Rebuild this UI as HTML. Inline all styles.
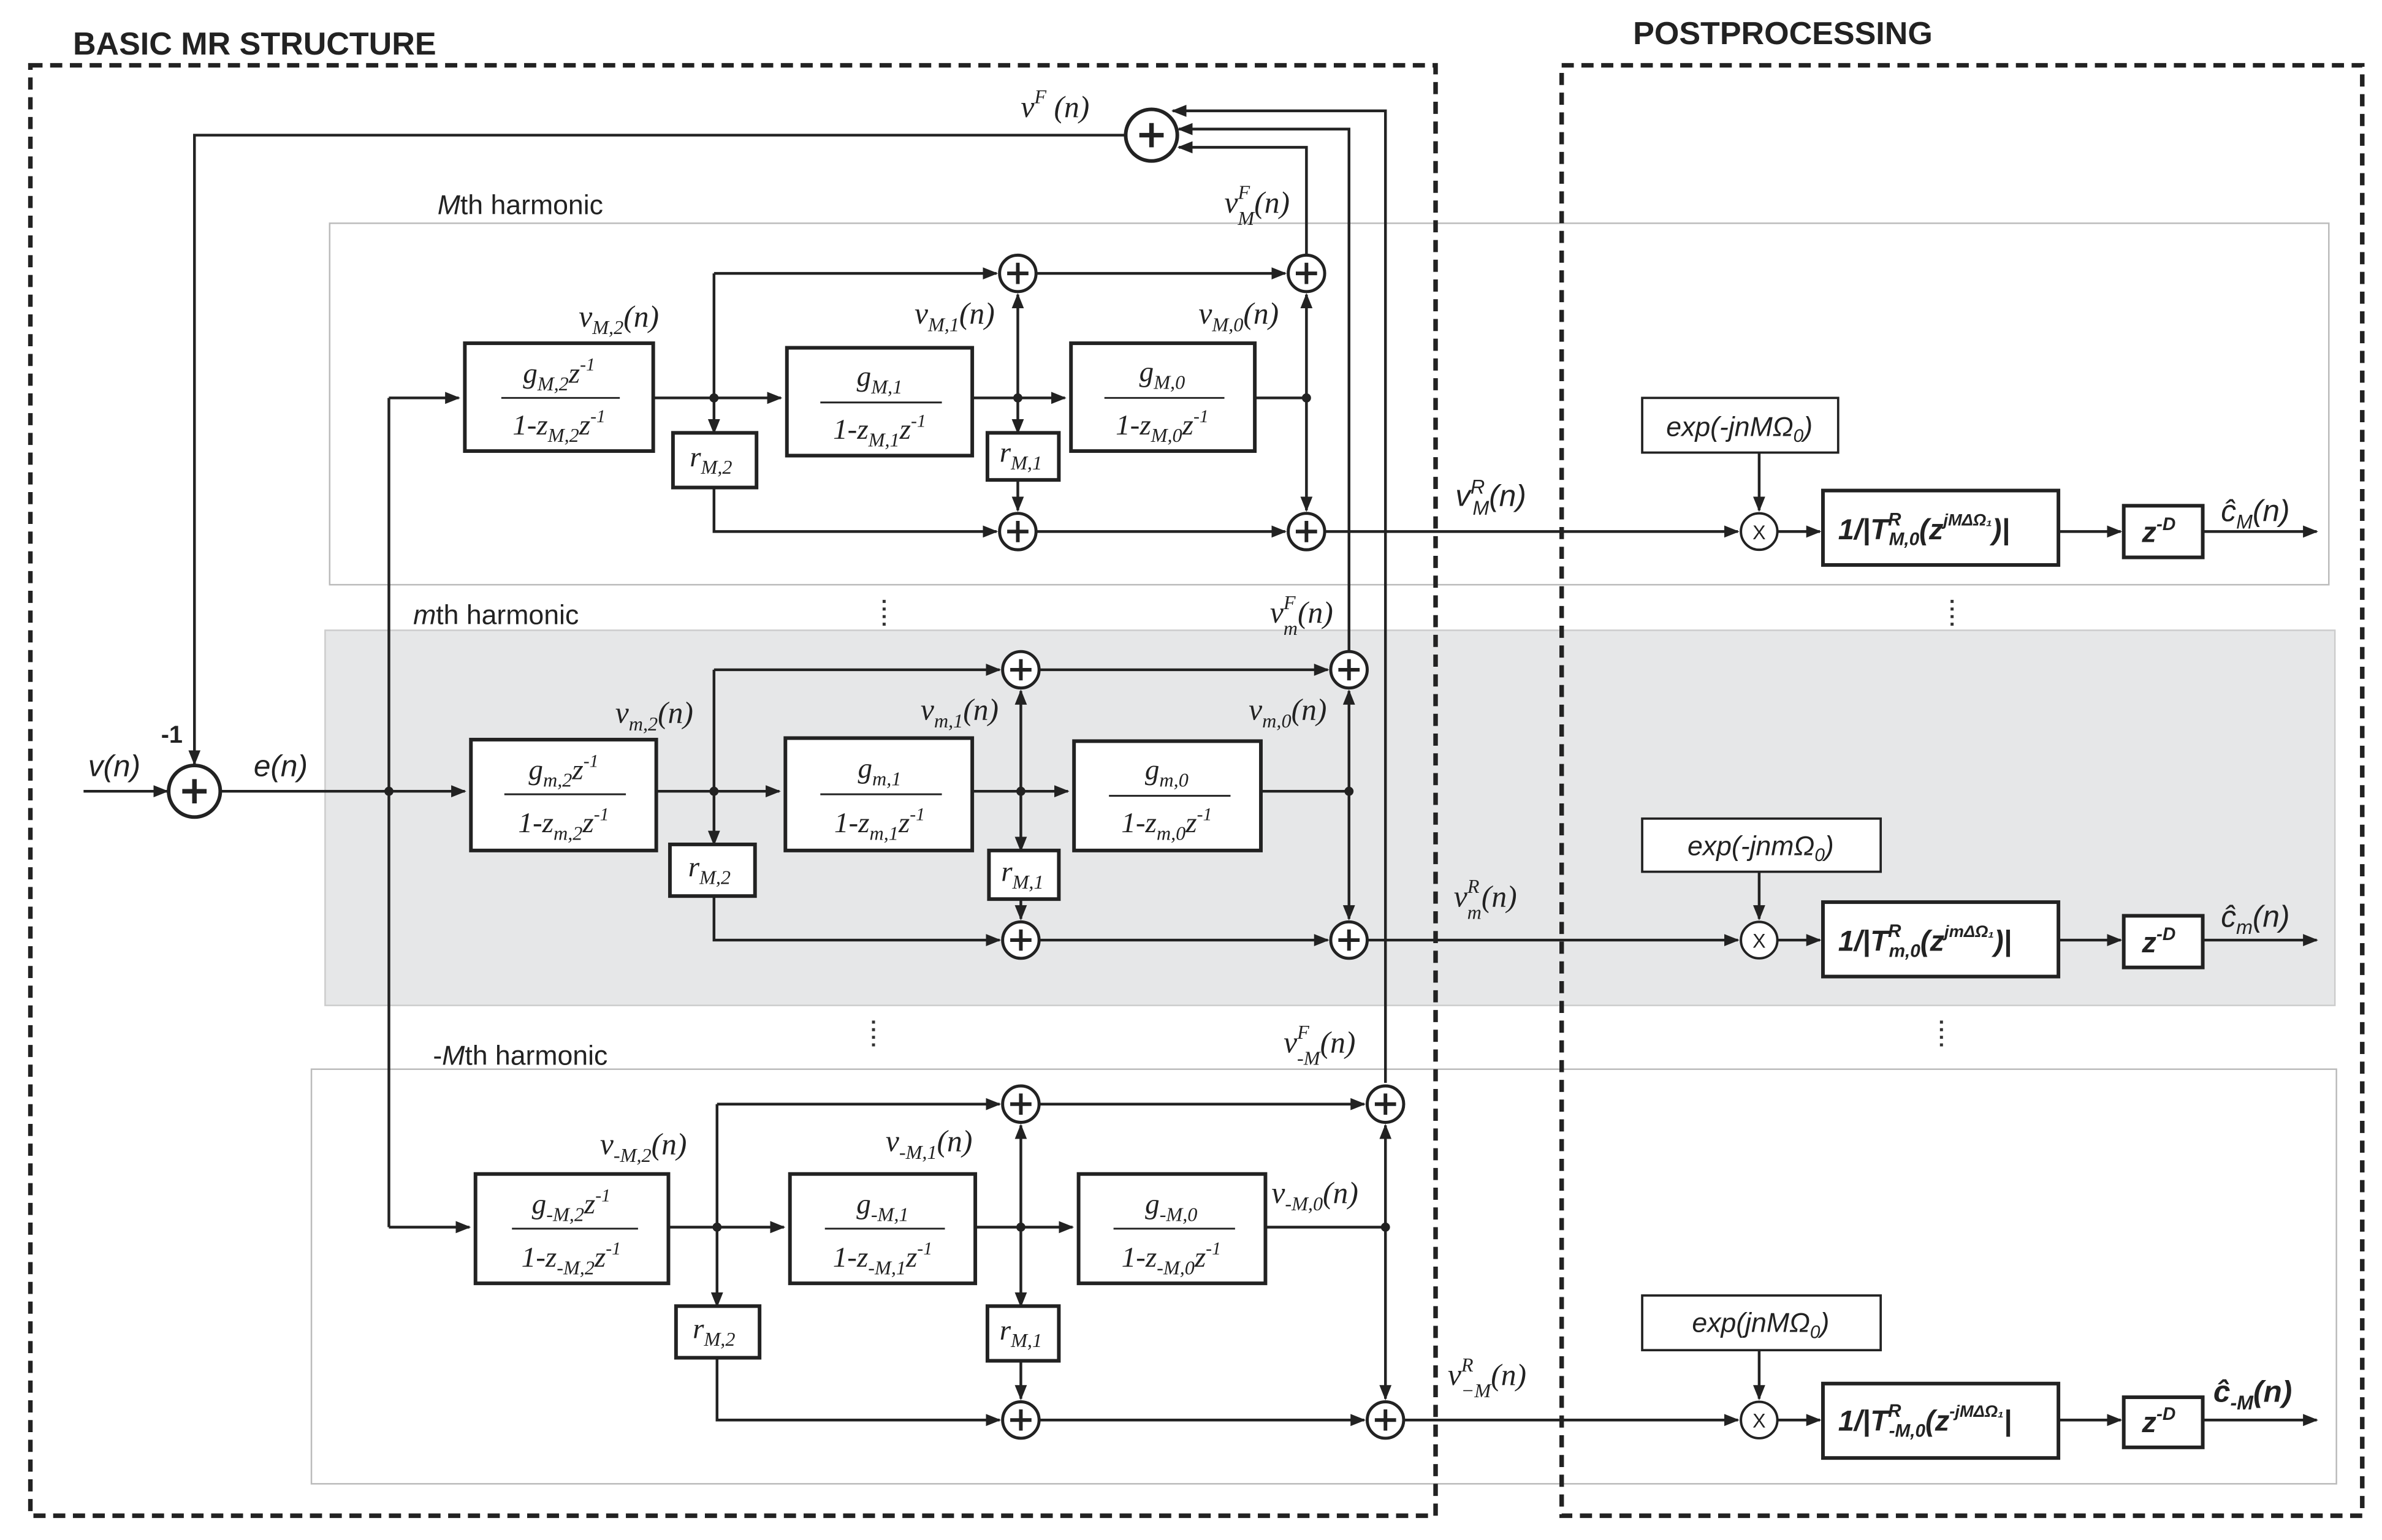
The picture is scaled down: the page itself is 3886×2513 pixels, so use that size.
<!DOCTYPE html>
<html><head><meta charset="utf-8"><style>
html,body{margin:0;padding:0;background:#fff}
svg{display:block}
text{font-family:"Liberation Serif",serif;font-style:italic;fill:#222}
.s{font-family:"Liberation Sans",sans-serif;font-style:italic}
.b{font-family:"Liberation Sans",sans-serif;font-weight:bold;font-style:normal}
</style></head><body>
<svg width="3886" height="2513" viewBox="0 0 1568 1014" preserveAspectRatio="none" xmlns="http://www.w3.org/2000/svg">
<defs>
<marker id="a" markerWidth="10" markerHeight="8" refX="9" refY="4" orient="auto" markerUnits="userSpaceOnUse"><path d="M0,0 L10,4 L0,8 z" fill="#222"/></marker>
<g id="sum"><circle r="12" fill="#fff" stroke="#222" stroke-width="2"/><path d="M-7,0H7M0,-7V7" stroke="#222" stroke-width="2.4"/></g>
<g id="mul"><circle r="12" fill="#fff" stroke="#222" stroke-width="1.6"/><text x="0" y="5" text-anchor="middle" style="font-family:'Liberation Sans',sans-serif;font-style:normal;font-size:13px">X</text></g>
</defs>
<!-- panels -->
<rect x="217" y="147" width="1316" height="238" fill="none" stroke="#bbb" stroke-width="1"/>
<rect x="214" y="415" width="1323" height="247" fill="#e6e7e8" stroke="#ccc" stroke-width="1"/>
<rect x="205" y="704" width="1333" height="273" fill="none" stroke="#bbb" stroke-width="1"/>
<!-- dashed boxes -->
<rect x="20" y="43" width="925" height="955" fill="none" stroke="#222" stroke-width="3" stroke-dasharray="8,5"/>
<rect x="1028" y="43" width="527" height="955" fill="none" stroke="#222" stroke-width="3" stroke-dasharray="8,5"/>
<text class="b" x="48" y="36" font-size="21">BASIC MR STRUCTURE</text>
<text class="b" x="1075" y="29" font-size="21">POSTPROCESSING</text>
<text class="s" x="288" y="141" font-size="18" style="font-style:normal"><tspan font-style="italic">M</tspan>th harmonic</text>
<text class="s" x="272" y="411" font-size="18" style="font-style:normal"><tspan font-style="italic">m</tspan>th harmonic</text>
<text class="s" x="285" y="701" font-size="18" style="font-style:normal">-<tspan font-style="italic">M</tspan>th harmonic</text>
<g stroke="#333" stroke-width="2" stroke-dasharray="2,3">
<path d="M582,395V413M1285,395V413M575,672V692M1278,672V692"/></g>

<g stroke="#222" stroke-width="1.8" fill="none">
<!-- input -->
<path d="M55,521H110" marker-end="url(#a)"/>
<path d="M145,521H306" marker-end="url(#a)"/>
<path d="M256,262V808"/>
<path d="M256,262H302" marker-end="url(#a)"/>
<path d="M256,808H309" marker-end="url(#a)"/>
<path d="M741,89H128V503" marker-end="url(#a)"/>
<!-- feedback -->
<path d="M860,168V97H776" marker-end="url(#a)"/>
<path d="M888,429V85H776" marker-end="url(#a)"/>
<path d="M912,713V73H772" marker-end="url(#a)"/>

<!-- Row M -->
<path d="M430,262H470"/><path d="M470,262H514" marker-end="url(#a)"/>
<path d="M470,180V285" marker-end="url(#a)"/><path d="M470,180H656" marker-end="url(#a)"/>
<path d="M470,321V350H656" marker-end="url(#a)"/>
<path d="M640,262H701" marker-end="url(#a)"/>
<path d="M670,262V194" marker-end="url(#a)"/><path d="M670,262V285" marker-end="url(#a)"/><path d="M670,316V336" marker-end="url(#a)"/>
<path d="M682,180H846" marker-end="url(#a)"/><path d="M682,350H846" marker-end="url(#a)"/>
<path d="M826,262H860"/><path d="M860,262V194" marker-end="url(#a)"/><path d="M860,262V336" marker-end="url(#a)"/>
<path d="M872,350H1144" marker-end="url(#a)"/>

<!-- Row m -->
<path d="M432,521H470"/><path d="M470,521H513" marker-end="url(#a)"/>
<path d="M470,441V556" marker-end="url(#a)"/><path d="M470,441H658" marker-end="url(#a)"/>
<path d="M470,590V619H658" marker-end="url(#a)"/>
<path d="M640,521H703" marker-end="url(#a)"/>
<path d="M672,521V455" marker-end="url(#a)"/><path d="M672,521V560" marker-end="url(#a)"/><path d="M672,592V605" marker-end="url(#a)"/>
<path d="M684,441H874" marker-end="url(#a)"/><path d="M684,619H874" marker-end="url(#a)"/>
<path d="M830,521H888"/><path d="M888,521V455" marker-end="url(#a)"/><path d="M888,521V605" marker-end="url(#a)"/>
<path d="M900,619H1144" marker-end="url(#a)"/>

<!-- Row -M -->
<path d="M440,808H472"/><path d="M472,808H516" marker-end="url(#a)"/>
<path d="M472,727V860" marker-end="url(#a)"/><path d="M472,727H658" marker-end="url(#a)"/>
<path d="M472,894V935H658" marker-end="url(#a)"/>
<path d="M642,808H706" marker-end="url(#a)"/>
<path d="M672,808V741" marker-end="url(#a)"/><path d="M672,808V860" marker-end="url(#a)"/><path d="M672,896V921" marker-end="url(#a)"/>
<path d="M684,727H898" marker-end="url(#a)"/><path d="M684,935H898" marker-end="url(#a)"/>
<path d="M833,808H912"/><path d="M912,808V741" marker-end="url(#a)"/><path d="M912,808V921" marker-end="url(#a)"/>
<path d="M924,935H1144" marker-end="url(#a)"/>

<!-- postprocessing arrows -->
<path d="M1158,298V336" marker-end="url(#a)"/><path d="M1170,350H1198" marker-end="url(#a)"/><path d="M1355,350H1396" marker-end="url(#a)"/><path d="M1450,350H1525" marker-end="url(#a)"/>
<path d="M1158,574V605" marker-end="url(#a)"/><path d="M1170,619H1198" marker-end="url(#a)"/><path d="M1355,619H1396" marker-end="url(#a)"/><path d="M1450,619H1525" marker-end="url(#a)"/>
<path d="M1158,889V921" marker-end="url(#a)"/><path d="M1170,935H1198" marker-end="url(#a)"/><path d="M1355,935H1396" marker-end="url(#a)"/><path d="M1450,935H1525" marker-end="url(#a)"/>
</g>
<!-- nodes -->
<g fill="#222"><circle cx="470" cy="262" r="3"/><circle cx="670" cy="262" r="3"/><circle cx="860" cy="262" r="3"/>
<circle cx="470" cy="521" r="3"/><circle cx="672" cy="521" r="3"/><circle cx="888" cy="521" r="3"/><circle cx="256" cy="521" r="3"/>
<circle cx="472" cy="808" r="3"/><circle cx="672" cy="808" r="3"/><circle cx="912" cy="808" r="3"/></g>

<!-- sums -->
<g><circle cx="758" cy="89" r="17" fill="#fff" stroke="#222" stroke-width="2.4"/><path d="M750,89H766M758,81V97" stroke="#222" stroke-width="3"/>
<circle cx="128" cy="521" r="17" fill="#fff" stroke="#222" stroke-width="2.4"/><path d="M120,521H136M128,513V529" stroke="#222" stroke-width="3"/></g>
<use href="#sum" x="670" y="180"/><use href="#sum" x="860" y="180"/><use href="#sum" x="670" y="350"/><use href="#sum" x="860" y="350"/>
<use href="#sum" x="672" y="441"/><use href="#sum" x="888" y="441"/><use href="#sum" x="672" y="619"/><use href="#sum" x="888" y="619"/>
<use href="#sum" x="672" y="727"/><use href="#sum" x="912" y="727"/><use href="#sum" x="672" y="935"/><use href="#sum" x="912" y="935"/>
<use href="#mul" x="1158" y="350"/><use href="#mul" x="1158" y="619"/><use href="#mul" x="1158" y="935"/>

<!-- blocks -->
<g fill="#fff" stroke="#222" stroke-width="2.4">
<rect x="306" y="226" width="124" height="71"/><rect x="518" y="229" width="122" height="71"/><rect x="705" y="226" width="121" height="71"/>
<rect x="310" y="487" width="122" height="73"/><rect x="517" y="486" width="123" height="74"/><rect x="707" y="488" width="123" height="72"/>
<rect x="313" y="773" width="127" height="72"/><rect x="520" y="773" width="122" height="72"/><rect x="710" y="773" width="123" height="72"/>
<rect x="443" y="285" width="55" height="36"/><rect x="650" y="285" width="47" height="31"/>
<rect x="441" y="556" width="56" height="34"/><rect x="651" y="560" width="46" height="32"/>
<rect x="445" y="860" width="55" height="34"/><rect x="650" y="860" width="47" height="36"/>
<rect x="1200" y="323" width="155" height="49"/><rect x="1398" y="333" width="52" height="34"/>
<rect x="1200" y="594" width="155" height="49"/><rect x="1398" y="603" width="52" height="34"/>
<rect x="1200" y="911" width="155" height="49"/><rect x="1398" y="920" width="52" height="33"/>
</g>
<g fill="#fff" stroke="#222" stroke-width="1.5">
<rect x="1081" y="262" width="129" height="36"/><rect x="1081" y="539" width="157" height="35"/><rect x="1081" y="853" width="157" height="36"/>
</g>
<g stroke="#222" stroke-width="1.2">
<path d="M330,262H408M540,265H620M727,262H806M332,523H412M540,523H620M730,524H810M337,809H420M543,809H622M733,809H813"/>
</g>

<!-- block texts -->
<g font-size="19" text-anchor="middle">
<text x="368" y="252">g<tspan font-size="13" dy="5">M,2</tspan><tspan dy="-5">z</tspan><tspan font-size="12" dy="-8">-1</tspan></text>
<text x="368" y="286">1-z<tspan font-size="13" dy="5">M,2</tspan><tspan dy="-5">z</tspan><tspan font-size="12" dy="-8">-1</tspan></text>
<text x="579" y="254">g<tspan font-size="13" dy="5">M,1</tspan></text>
<text x="579" y="289">1-z<tspan font-size="13" dy="5">M,1</tspan><tspan dy="-5">z</tspan><tspan font-size="12" dy="-8">-1</tspan></text>
<text x="765" y="251">g<tspan font-size="13" dy="5">M,0</tspan></text>
<text x="765" y="286">1-z<tspan font-size="13" dy="5">M,0</tspan><tspan dy="-5">z</tspan><tspan font-size="12" dy="-8">-1</tspan></text>

<text x="371" y="513">g<tspan font-size="13" dy="5">m,2</tspan><tspan dy="-5">z</tspan><tspan font-size="12" dy="-8">-1</tspan></text>
<text x="371" y="548">1-z<tspan font-size="13" dy="5">m,2</tspan><tspan dy="-5">z</tspan><tspan font-size="12" dy="-8">-1</tspan></text>
<text x="579" y="512">g<tspan font-size="13" dy="5">m,1</tspan></text>
<text x="579" y="548">1-z<tspan font-size="13" dy="5">m,1</tspan><tspan dy="-5">z</tspan><tspan font-size="12" dy="-8">-1</tspan></text>
<text x="768" y="513">g<tspan font-size="13" dy="5">m,0</tspan></text>
<text x="768" y="548">1-z<tspan font-size="13" dy="5">m,0</tspan><tspan dy="-5">z</tspan><tspan font-size="12" dy="-8">-1</tspan></text>

<text x="376" y="799">g<tspan font-size="13" dy="5">-M,2</tspan><tspan dy="-5">z</tspan><tspan font-size="12" dy="-8">-1</tspan></text>
<text x="376" y="834">1-z<tspan font-size="13" dy="5">-M,2</tspan><tspan dy="-5">z</tspan><tspan font-size="12" dy="-8">-1</tspan></text>
<text x="581" y="799">g<tspan font-size="13" dy="5">-M,1</tspan></text>
<text x="581" y="834">1-z<tspan font-size="13" dy="5">-M,1</tspan><tspan dy="-5">z</tspan><tspan font-size="12" dy="-8">-1</tspan></text>
<text x="771" y="799">g<tspan font-size="13" dy="5">-M,0</tspan></text>
<text x="771" y="834">1-z<tspan font-size="13" dy="5">-M,0</tspan><tspan dy="-5">z</tspan><tspan font-size="12" dy="-8">-1</tspan></text>

<text x="468" y="307">r<tspan font-size="13" dy="5">M,2</tspan></text>
<text x="672" y="304">r<tspan font-size="13" dy="5">M,1</tspan></text>
<text x="467" y="577">r<tspan font-size="13" dy="5">M,2</tspan></text>
<text x="673" y="580">r<tspan font-size="13" dy="5">M,1</tspan></text>
<text x="470" y="881">r<tspan font-size="13" dy="5">M,2</tspan></text>
<text x="672" y="882">r<tspan font-size="13" dy="5">M,1</tspan></text>
</g>

<!-- signal labels -->
<g font-size="20">
<text x="672" y="77">v<tspan font-size="13" dy="-9">F</tspan><tspan dy="9"> (n)</tspan></text>
<text x="806" y="140">v<tspan font-size="13" dy="-9">F</tspan><tspan font-size="13" dx="-8" dy="17">M</tspan><tspan dy="-8">(n)</tspan></text>
<text x="381" y="215">v<tspan font-size="13" dy="5">M,2</tspan><tspan dy="-5">(n)</tspan></text>
<text x="602" y="213">v<tspan font-size="13" dy="5">M,1</tspan><tspan dy="-5">(n)</tspan></text>
<text x="789" y="213">v<tspan font-size="13" dy="5">M,0</tspan><tspan dy="-5">(n)</tspan></text>
<text x="836" y="410">v<tspan font-size="13" dy="-9">F</tspan><tspan font-size="13" dx="-8" dy="17">m</tspan><tspan dy="-8">(n)</tspan></text>
<text x="405" y="476">v<tspan font-size="13" dy="5">m,2</tspan><tspan dy="-5">(n)</tspan></text>
<text x="606" y="474">v<tspan font-size="13" dy="5">m,1</tspan><tspan dy="-5">(n)</tspan></text>
<text x="822" y="474">v<tspan font-size="13" dy="5">m,0</tspan><tspan dy="-5">(n)</tspan></text>
<text x="845" y="693">v<tspan font-size="13" dy="-9">F</tspan><tspan font-size="13" dx="-8" dy="17">-M</tspan><tspan dy="-8">(n)</tspan></text>
<text x="395" y="760">v<tspan font-size="13" dy="5">-M,2</tspan><tspan dy="-5">(n)</tspan></text>
<text x="583" y="758">v<tspan font-size="13" dy="5">-M,1</tspan><tspan dy="-5">(n)</tspan></text>
<text x="837" y="792">v<tspan font-size="13" dy="5">-M,0</tspan><tspan dy="-5">(n)</tspan></text>
<text x="957" y="597">v<tspan font-size="13" dy="-9">R</tspan><tspan font-size="13" dx="-8" dy="17">m</tspan><tspan dy="-8">(n)</tspan></text>
<text x="953" y="912">v<tspan font-size="13" dy="-9">R</tspan><tspan font-size="13" dx="-8" dy="17">−M</tspan><tspan dy="-8">(n)</tspan></text>
</g>
<g class="s" font-size="20">
<text class="s" x="58" y="511">v(n)</text>
<text class="s" x="167" y="511">e(n)</text>
<text class="s" x="106" y="489" style="font-style:normal;font-weight:bold" font-size="16">-1</text>
<text class="s" x="958" y="333">v<tspan font-size="13" dy="-8">R</tspan><tspan font-size="13" dx="-8" dy="14">M</tspan><tspan dy="-6">(n)</tspan></text>
<text class="s" x="1462" y="343">ĉ<tspan font-size="13" dy="5">M</tspan><tspan dy="-5">(n)</tspan></text>
<text class="s" x="1462" y="610">ĉ<tspan font-size="13" dy="5">m</tspan><tspan dy="-5">(n)</tspan></text>
<text class="s" x="1457" y="923" font-weight="bold">ĉ<tspan font-size="13" dy="5">-M</tspan><tspan dy="-5">(n)</tspan></text>
</g>
<g class="s" font-size="18" text-anchor="middle">
<text class="s" x="1145" y="287">exp(-jnMΩ<tspan font-size="12" dy="4">0</tspan><tspan dy="-4">)</tspan></text>
<text class="s" x="1159" y="563">exp(-jnmΩ<tspan font-size="12" dy="4">0</tspan><tspan dy="-4">)</tspan></text>
<text class="s" x="1159" y="877">exp(jnMΩ<tspan font-size="12" dy="4">0</tspan><tspan dy="-4">)</tspan></text>
</g>
<g class="s" font-size="19" font-weight="bold">
<text class="s" x="1210" y="355" font-weight="bold">1/|T<tspan font-size="12" dy="-9">R</tspan><tspan font-size="12" dx="-8" dy="13">M,0</tspan><tspan dy="-4">(z</tspan><tspan font-size="11" dy="-9">jMΔΩ₁</tspan><tspan dy="9">)|</tspan></text>
<text class="s" x="1210" y="626" font-weight="bold">1/|T<tspan font-size="12" dy="-9">R</tspan><tspan font-size="12" dx="-8" dy="13">m,0</tspan><tspan dy="-4">(z</tspan><tspan font-size="11" dy="-9">jmΔΩ₁</tspan><tspan dy="9">)|</tspan></text>
<text class="s" x="1210" y="942" font-weight="bold">1/|T<tspan font-size="12" dy="-9">R</tspan><tspan font-size="12" dx="-8" dy="13">-M,0</tspan><tspan dy="-4">(z</tspan><tspan font-size="11" dy="-9">-jMΔΩ₁</tspan><tspan dy="9">|</tspan></text>
<text class="s" x="1410" y="357" font-weight="bold">z<tspan font-size="12" dy="-8">-D</tspan></text>
<text class="s" x="1410" y="627" font-weight="bold">z<tspan font-size="12" dy="-8">-D</tspan></text>
<text class="s" x="1410" y="943" font-weight="bold">z<tspan font-size="12" dy="-8">-D</tspan></text>
</g>
</svg>
</body></html>
